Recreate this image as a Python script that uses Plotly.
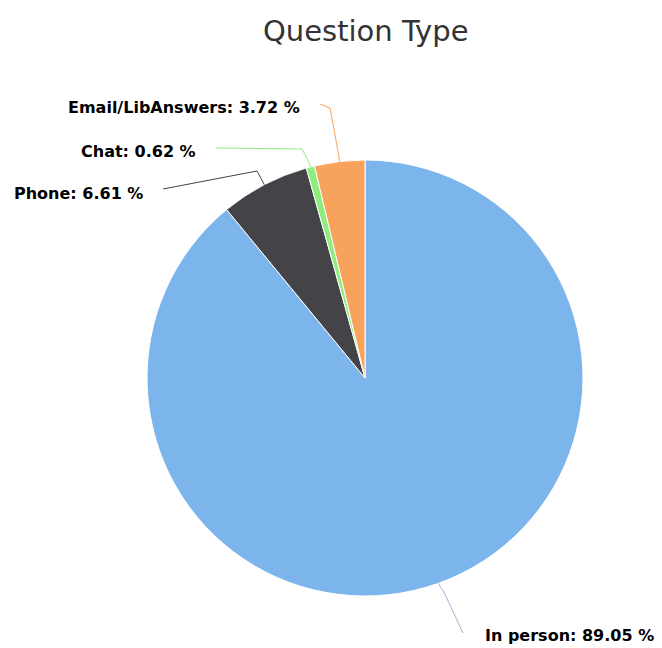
import math
import plotly.graph_objects as go

# ---- data ----
categories = ["In person", "Phone", "Chat", "Email/LibAnswers"]
percentages = [89.05, 6.61, 0.62, 3.72]
colors = ["#7cb5ec", "#434348", "#90ed7d", "#f7a35c"]
title_text = "Question Type"

# ---- layout geometry (pixels) ----
W, H = 662, 648
CX, CY, R = 365, 378, 218

# label anchors: (x, y, side) side='right' means text ends at x
label_pos = {
    "In person": (483, 635, "left"),
    "Phone": (145, 193, "right"),
    "Chat": (198, 152, "right"),
    "Email/LibAnswers": (302, 108, "right"),
}
bend_pos = {
    "In person": (443, 590),
    "Phone": (257, 171),
    "Chat": (302, 149),
    "Email/LibAnswers": (330, 108),
}


def px(x):
    return x / W


def py(y):
    return 1 - y / H


fig = go.Figure()
fig.add_trace(go.Pie(
    labels=categories,
    values=percentages,
    marker=dict(colors=colors, line=dict(color="#ffffff", width=1)),
    sort=False,
    direction="clockwise",
    rotation=0,
    textinfo="none",
    hoverinfo="skip",
    showlegend=False,
    domain=dict(x=[px(CX - R), px(CX + R)], y=[py(CY + R), py(CY - R)]),
))

total = sum(percentages)
cum = 0.0
shapes = []
annotations = []
for cat, val, col in zip(categories, percentages, colors):
    mid = (cum + val / 2) / total * 2 * math.pi
    cum += val
    ex = CX + R * math.sin(mid)
    ey = CY - R * math.cos(mid)
    lx, ly, side = label_pos[cat]
    bx, by = bend_pos[cat]
    sx = lx + 18 if side == "right" else lx - 20
    sy = ly - 4 if side == "right" else ly - 2
    ox = CX + (R + 6) * math.sin(mid)
    oy = CY - (R + 6) * math.cos(mid)
    path = (f"M {px(sx)},{py(sy)} L {px(bx)},{py(by)} "
            f"Q {px(ox)},{py(oy)} {px(ex)},{py(ey)}")
    shapes.append(dict(type="path", path=path, xref="paper", yref="paper",
                       line=dict(color=col if cat != "In person" else "#9fb7cc", width=1)))
    annotations.append(dict(
        x=px(lx), y=py(ly), xref="paper", yref="paper",
        text=f"<b>{cat}: {val:.2f} %</b>", showarrow=False,
        xanchor=side, yanchor="middle",
        font=dict(family="DejaVu Sans", size=16, color="#000000"),
    ))

annotations.append(dict(
    x=px(366), y=py(31), xref="paper", yref="paper", text=title_text,
    showarrow=False, xanchor="center", yanchor="middle",
    font=dict(family="DejaVu Sans", size=29, color="#333333"),
))

fig.update_layout(
    width=W, height=H,
    margin=dict(l=0, r=0, t=0, b=0),
    paper_bgcolor="#ffffff",
    plot_bgcolor="#ffffff",
    shapes=shapes,
    annotations=annotations,
)

fig.write_html("out.html")
